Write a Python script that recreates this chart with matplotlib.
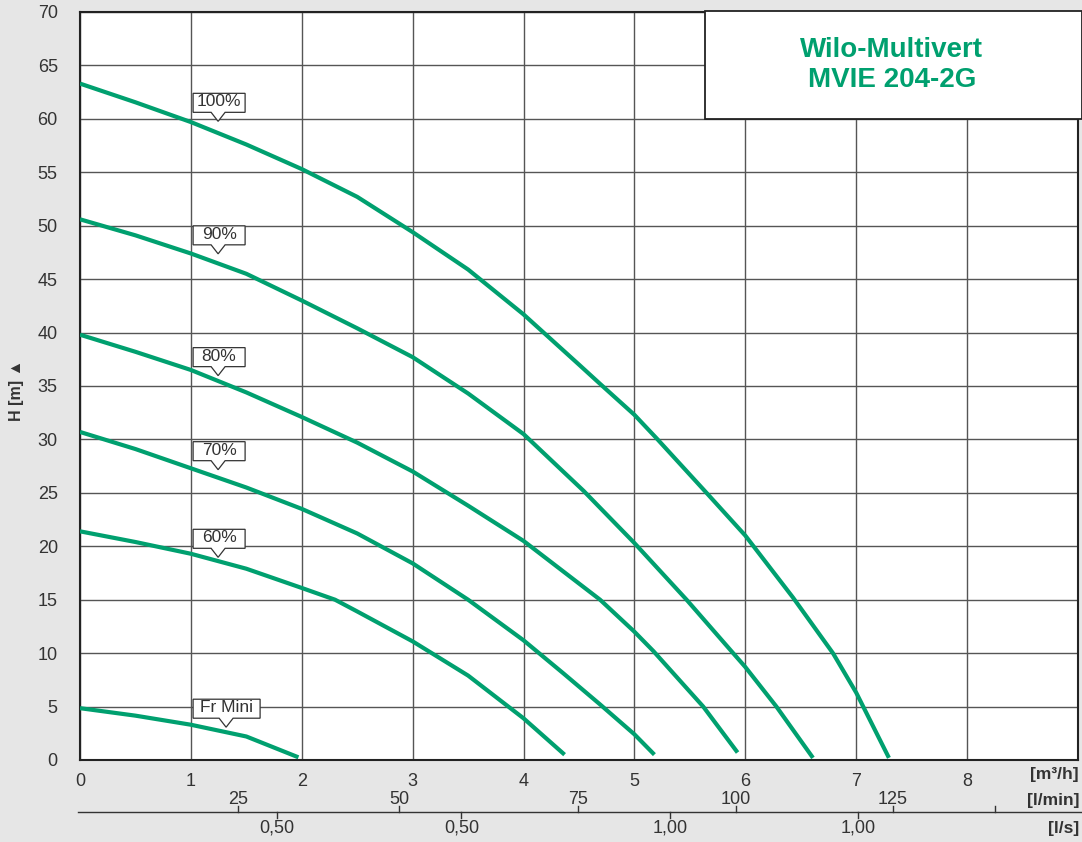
import matplotlib
matplotlib.use("Agg")
import matplotlib.pyplot as plt
from matplotlib.patches import Rectangle, Polygon

plt.rcParams['font.family'] = ['Liberation Sans', 'DejaVu Sans']

# ---- data (Q in m3/h, H in m) ----
q100 = [0, 0.5, 1, 1.5, 2, 2.5, 3, 3.5, 4, 4.5, 4.69, 5, 5.2, 5.65, 6, 6.43, 6.79, 7, 7.295]
h100 = [63.3, 61.55, 59.7, 57.6, 55.3, 52.7, 49.4, 45.9, 41.7, 37.0, 35.2, 32.3, 30.1, 25.0, 21.0, 15.2, 10.0, 6.3, 0.2]
q90 = [0, 0.5, 1, 1.5, 2, 2.5, 3, 3.5, 4, 4.54, 5, 5.47, 5.89, 6, 6.28, 6.61]
h90 = [50.6, 49.1, 47.4, 45.5, 43.0, 40.4, 37.7, 34.3, 30.5, 25.2, 20.3, 15.0, 10.0, 8.7, 5.0, 0.2]
q80 = [0, 0.5, 1, 1.5, 2, 2.5, 3, 3.5, 4, 4.69, 5, 5.17, 5.62, 5.93]
h80 = [39.8, 38.2, 36.5, 34.4, 32.1, 29.7, 27.0, 23.8, 20.5, 15.0, 12.0, 10.2, 5.0, 0.7]
q70 = [0, 0.5, 1, 1.5, 2, 2.5, 3, 3.5, 4, 4.36, 4.69, 5, 5.18]
h70 = [30.7, 29.1, 27.3, 25.5, 23.5, 21.2, 18.4, 15.0, 11.2, 8.1, 5.2, 2.4, 0.5]
q60 = [0, 0.5, 1, 1.5, 2, 2.3, 2.5, 3, 3.5, 4, 4.37]
h60 = [21.4, 20.4, 19.3, 17.9, 16.1, 15.0, 13.9, 11.1, 7.9, 3.9, 0.5]
qmin = [0, 0.5, 1, 1.5, 1.97]
hmin = [4.85, 4.15, 3.3, 2.2, 0.25]

curves = [(q100, h100), (q90, h90), (q80, h80), (q70, h70), (q60, h60), (qmin, hmin)]
curve_labels = ['100%', '90%', '80%', '70%', '60%', 'Fr Mini']
label_y = [61.5, 49.1, 37.7, 28.9, 20.7, 4.8]

x_ticks = [0, 1, 2, 3, 4, 5, 6, 7, 8]
y_ticks = list(range(0, 75, 5))
lmin_pos = [1.425, 2.876, 4.49, 5.915, 7.33, 8.25]
lmin_labels = ['25', '50', '75', '100', '125', '']
ls_pos = [1.776, 3.44, 5.32, 7.02]
ls_labels = ['0,50', '0,50', '1,00', '1,00']
title_lines = ['Wilo-Multivert', 'MVIE 204-2G']

GREEN = '#00a06f'
BG = '#e6e6e6'
TXT = '#333333'

W, H = 1082, 842
fig = plt.figure(figsize=(W / 100, H / 100), dpi=100, facecolor=BG)
L, R, B, T = 80 / W, 1078 / W, (H - 760) / H, (H - 12) / H
ax = fig.add_axes([L, B, R - L, T - B])
ax.set_facecolor('white')
ax.set_xlim(0, 9)
ax.set_ylim(0, 70)
ax.set_xticks(x_ticks)
ax.set_yticks(y_ticks)
ax.grid(True, color='#555555', linewidth=1.0)
ax.set_axisbelow(True)
ax.tick_params(length=0, labelsize=13, labelcolor=TXT, pad=9)
ax.tick_params(axis='y', pad=16)
for s in ax.spines.values():
    s.set_color('#222222')
    s.set_linewidth(1.5)

for (q, h) in curves:
    ax.plot(q, h, color=GREEN, linewidth=3.0, solid_capstyle='butt',
            solid_joinstyle='round', zorder=4)

# callout labels
px = 9 / (1078 - 80)   # data per pixel x
py = 70 / (760 - 12)   # data per pixel y
for lab, yc in zip(curve_labels, label_y):
    w = (52 if lab != 'Fr Mini' else 67) * px
    hh = 19 * py
    x0 = 1.02
    y0 = yc - hh / 2
    tipx = x0 + (25 if lab != 'Fr Mini' else 33) * px
    pts = [(x0, y0 + hh), (x0 + w, y0 + hh), (x0 + w, y0),
           (tipx + 7 * px, y0), (tipx, y0 - 9 * py), (tipx - 7 * px, y0), (x0, y0)]
    ax.add_patch(Polygon(pts, closed=True, facecolor='white', edgecolor='#333333',
                         linewidth=0.9, zorder=6))
    ax.text(x0 + w / 2, yc + 0.1, lab, ha='center', va='center', fontsize=12.5,
            color=TXT, zorder=7)

# title box
ax.add_patch(Rectangle((5.64, 59.95), 3.4, 10.1, facecolor='white', edgecolor='#222222',
                       linewidth=1.3, zorder=5, clip_on=False))
ax.text(7.32, 65.0, '\n'.join(title_lines), ha='center', va='center', fontsize=20,
        fontweight='bold', color=GREEN, linespacing=1.2, zorder=6)

# y label
fig.text(16 / W, 1 - 390 / H, 'H [m] \u25B2', rotation=90, ha='center', va='center',
         fontsize=11.5, fontweight='bold', color=TXT)

# units for m3/h
fig.text(1079 / W, 1 - 774 / H, '[m\u00b3/h]', ha='right', va='center', fontsize=12.5,
         fontweight='bold', color=TXT)

# secondary scales axes
ax2 = fig.add_axes([L, 0, R - L, B])
ax2.set_xlim(0, 9)
ax2.set_ylim(0, H - 760)
ax2.axis('off')
ax2.plot([-0.02, 9.2], [30, 30], color='#333333', linewidth=1.0, clip_on=False)
for p, t in zip(lmin_pos, lmin_labels):
    ax2.plot([p, p], [30, 36], color='#333333', linewidth=1.0, clip_on=False)
    ax2.text(p, 42, t, ha='center', va='center', fontsize=13, color=TXT)
for p, t in zip(ls_pos, ls_labels):
    ax2.plot([p, p], [30, 24], color='#333333', linewidth=1.0, clip_on=False)
    ax2.text(p, 14, t, ha='center', va='center', fontsize=13, color=TXT)
fig.text(1079 / W, 1 - 800 / H, '[l/min]', ha='right', va='center', fontsize=12.5,
         fontweight='bold', color=TXT)
fig.text(1079 / W, 1 - 828 / H, '[l/s]', ha='right', va='center', fontsize=12.5,
         fontweight='bold', color=TXT)

fig.savefig('out.png', dpi=100, facecolor=BG)
